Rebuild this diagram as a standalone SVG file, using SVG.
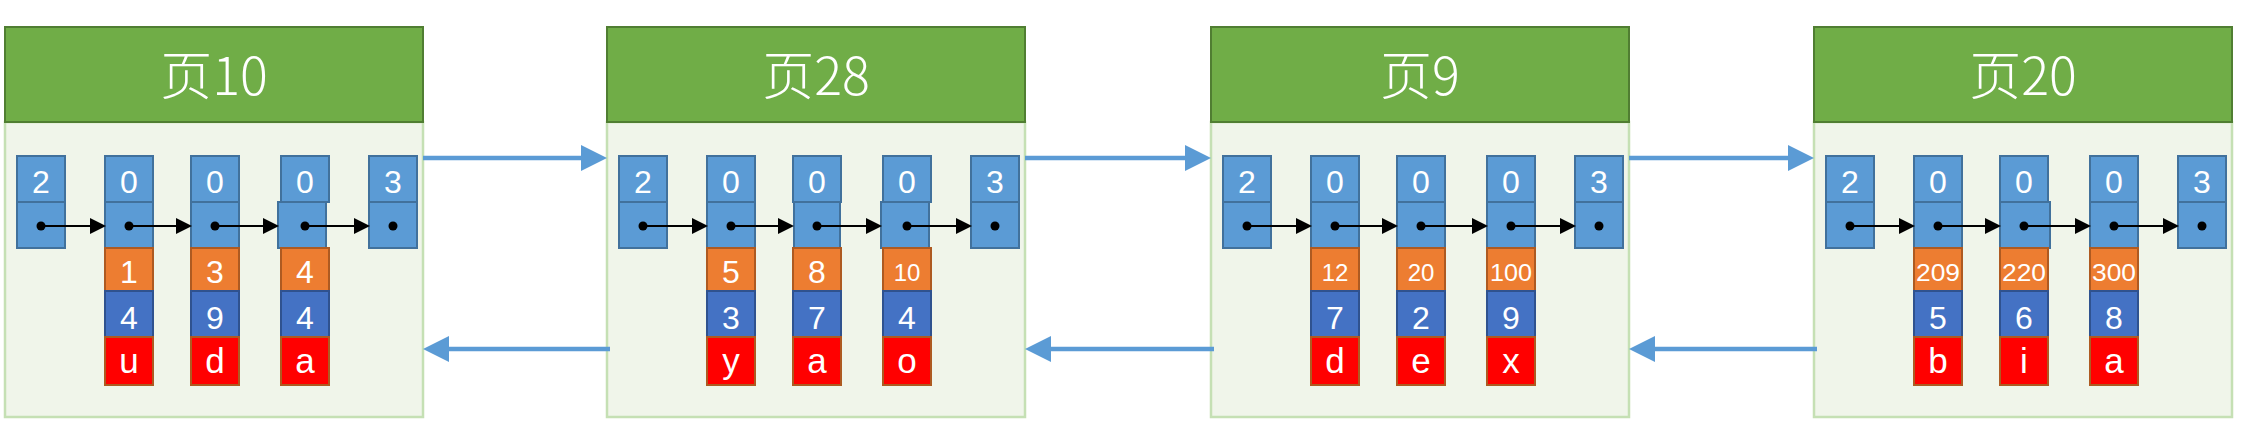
<svg xmlns="http://www.w3.org/2000/svg" width="2244" height="440" viewBox="0 0 2244 440">
<style>
.hd{fill:#70AD47;stroke:#507E32;stroke-width:2}
.bd{fill:#F0F5EA;stroke:#C5E0B4;stroke-width:2.5}
.ttl{font-family:"Noto Sans CJK SC","Noto Sans",sans-serif;font-size:52px;font-weight:300;fill:#fff;text-anchor:middle}
.b{fill:#5B9BD5;stroke:#41719C;stroke-width:2}
.o{fill:#ED7D31;stroke:#AE5A21;stroke-width:2}
.d{fill:#4472C4;stroke:#2F528F;stroke-width:2}
.r{fill:#FF0000;stroke:#AE5A21;stroke-width:2}
.t{font-family:"Liberation Sans",Arial,sans-serif;font-size:32px;fill:#fff;text-anchor:middle}
.s{font-size:24px}
.l{font-size:35px}
.dot{fill:#000}
.ptr{stroke:#000;stroke-width:2;fill:none}
.link{stroke:#5B9BD5;stroke-width:4.5;fill:none}
</style>
<defs>
<marker id="ah" markerUnits="userSpaceOnUse" markerWidth="16" markerHeight="16" refX="5" refY="8" orient="auto"><path d="M0,0 L16,8 L0,16 Z" fill="#000"/></marker>
<marker id="bh" markerUnits="userSpaceOnUse" markerWidth="26" markerHeight="26" refX="10" refY="13" orient="auto"><path d="M0,0 L26,13 L0,26 Z" fill="#5B9BD5"/></marker>
</defs>

<g id="page10" transform="translate(5,0)">
<rect class="bd" x="0" y="122" width="418" height="295"/>
<rect class="hd" x="0" y="27" width="418" height="95"/>
<text class="ttl" x="209" y="95">页10</text>
<g id="p10-inf"><rect class="b" x="12" y="156" width="48" height="46"/><rect class="b" x="12" y="202" width="48" height="46"/><text class="t" x="36" y="193">2</text><circle class="dot" cx="36" cy="226" r="4.5"/></g>
<g id="p10-r1"><rect class="b" x="100" y="156" width="48" height="46"/><rect class="b" x="100" y="202" width="48" height="46"/><rect class="o" x="100" y="248" width="48" height="43"/><rect class="d" x="100" y="291" width="48" height="46"/><rect class="r" x="100" y="337" width="48" height="48"/><text class="t" x="124" y="193">0</text><text class="t" x="124" y="283">1</text><text class="t" x="124" y="329">4</text><text class="t l" x="124" y="373">u</text><circle class="dot" cx="124" cy="226" r="4.5"/></g>
<g id="p10-r2"><rect class="b" x="186" y="156" width="48" height="46"/><rect class="b" x="186" y="202" width="48" height="46"/><rect class="o" x="186" y="248" width="48" height="43"/><rect class="d" x="186" y="291" width="48" height="46"/><rect class="r" x="186" y="337" width="48" height="48"/><text class="t" x="210" y="193">0</text><text class="t" x="210" y="283">3</text><text class="t" x="210" y="329">9</text><text class="t l" x="210" y="373">d</text><circle class="dot" cx="210" cy="226" r="4.5"/></g>
<g id="p10-r3"><rect class="b" x="276" y="156" width="48" height="46"/><rect class="b" x="273" y="202" width="48" height="46"/><rect class="o" x="276" y="248" width="48" height="43"/><rect class="d" x="276" y="291" width="48" height="46"/><rect class="r" x="276" y="337" width="48" height="48"/><text class="t" x="300" y="193">0</text><text class="t" x="300" y="283">4</text><text class="t" x="300" y="329">4</text><text class="t l" x="300" y="373">a</text><circle class="dot" cx="300" cy="226" r="4.5"/></g>
<g id="p10-sup"><rect class="b" x="364" y="156" width="48" height="46"/><rect class="b" x="364" y="202" width="48" height="46"/><text class="t" x="388" y="193">3</text><circle class="dot" cx="388" cy="226" r="4.5"/></g>
</g>

<g id="page28" transform="translate(607,0)">
<rect class="bd" x="0" y="122" width="418" height="295"/>
<rect class="hd" x="0" y="27" width="418" height="95"/>
<text class="ttl" x="209" y="95">页28</text>
<g id="p28-inf"><rect class="b" x="12" y="156" width="48" height="46"/><rect class="b" x="12" y="202" width="48" height="46"/><text class="t" x="36" y="193">2</text><circle class="dot" cx="36" cy="226" r="4.5"/></g>
<g id="p28-r1"><rect class="b" x="100" y="156" width="48" height="46"/><rect class="b" x="100" y="202" width="48" height="46"/><rect class="o" x="100" y="248" width="48" height="43"/><rect class="d" x="100" y="291" width="48" height="46"/><rect class="r" x="100" y="337" width="48" height="48"/><text class="t" x="124" y="193">0</text><text class="t" x="124" y="283">5</text><text class="t" x="124" y="329">3</text><text class="t l" x="124" y="373">y</text><circle class="dot" cx="124" cy="226" r="4.5"/></g>
<g id="p28-r2"><rect class="b" x="186" y="156" width="48" height="46"/><rect class="b" x="187" y="202" width="46" height="46"/><rect class="o" x="186" y="248" width="48" height="43"/><rect class="d" x="186" y="291" width="48" height="46"/><rect class="r" x="186" y="337" width="48" height="48"/><text class="t" x="210" y="193">0</text><text class="t" x="210" y="283">8</text><text class="t" x="210" y="329">7</text><text class="t l" x="210" y="373">a</text><circle class="dot" cx="210" cy="226" r="4.5"/></g>
<g id="p28-r3"><rect class="b" x="276" y="156" width="48" height="46"/><rect class="b" x="274" y="202" width="48" height="46"/><rect class="o" x="276" y="248" width="48" height="43"/><rect class="d" x="276" y="291" width="48" height="46"/><rect class="r" x="276" y="337" width="48" height="48"/><text class="t" x="300" y="193">0</text><text class="t s" x="300" y="281">10</text><text class="t" x="300" y="329">4</text><text class="t l" x="300" y="373">o</text><circle class="dot" cx="300" cy="226" r="4.5"/></g>
<g id="p28-sup"><rect class="b" x="364" y="156" width="48" height="46"/><rect class="b" x="364" y="202" width="48" height="46"/><text class="t" x="388" y="193">3</text><circle class="dot" cx="388" cy="226" r="4.5"/></g>
</g>

<g id="page9" transform="translate(1211,0)">
<rect class="bd" x="0" y="122" width="418" height="295"/>
<rect class="hd" x="0" y="27" width="418" height="95"/>
<text class="ttl" x="209" y="95">页9</text>
<g id="p9-inf"><rect class="b" x="12" y="156" width="48" height="46"/><rect class="b" x="12" y="202" width="48" height="46"/><text class="t" x="36" y="193">2</text><circle class="dot" cx="36" cy="226" r="4.5"/></g>
<g id="p9-r1"><rect class="b" x="100" y="156" width="48" height="46"/><rect class="b" x="100" y="202" width="48" height="46"/><rect class="o" x="100" y="248" width="48" height="43"/><rect class="d" x="100" y="291" width="48" height="46"/><rect class="r" x="100" y="337" width="48" height="48"/><text class="t" x="124" y="193">0</text><text class="t s" x="124" y="281">12</text><text class="t" x="124" y="329">7</text><text class="t l" x="124" y="373">d</text><circle class="dot" cx="124" cy="226" r="4.5"/></g>
<g id="p9-r2"><rect class="b" x="186" y="156" width="48" height="46"/><rect class="b" x="186" y="202" width="48" height="46"/><rect class="o" x="186" y="248" width="48" height="43"/><rect class="d" x="186" y="291" width="48" height="46"/><rect class="r" x="186" y="337" width="48" height="48"/><text class="t" x="210" y="193">0</text><text class="t s" x="210" y="281">20</text><text class="t" x="210" y="329">2</text><text class="t l" x="210" y="373">e</text><circle class="dot" cx="210" cy="226" r="4.5"/></g>
<g id="p9-r3"><rect class="b" x="276" y="156" width="48" height="46"/><rect class="b" x="276" y="202" width="48" height="46"/><rect class="o" x="276" y="248" width="48" height="43"/><rect class="d" x="276" y="291" width="48" height="46"/><rect class="r" x="276" y="337" width="48" height="48"/><text class="t" x="300" y="193">0</text><text class="t s" x="300" y="281" textLength="42" lengthAdjust="spacingAndGlyphs">100</text><text class="t" x="300" y="329">9</text><text class="t l" x="300" y="373">x</text><circle class="dot" cx="300" cy="226" r="4.5"/></g>
<g id="p9-sup"><rect class="b" x="364" y="156" width="48" height="46"/><rect class="b" x="364" y="202" width="48" height="46"/><text class="t" x="388" y="193">3</text><circle class="dot" cx="388" cy="226" r="4.5"/></g>
</g>

<g id="page20" transform="translate(1814,0)">
<rect class="bd" x="0" y="122" width="418" height="295"/>
<rect class="hd" x="0" y="27" width="418" height="95"/>
<text class="ttl" x="209" y="95">页20</text>
<g id="p20-inf"><rect class="b" x="12" y="156" width="48" height="46"/><rect class="b" x="12" y="202" width="48" height="46"/><text class="t" x="36" y="193">2</text><circle class="dot" cx="36" cy="226" r="4.5"/></g>
<g id="p20-r1"><rect class="b" x="100" y="156" width="48" height="46"/><rect class="b" x="100" y="202" width="48" height="46"/><rect class="o" x="100" y="248" width="48" height="43"/><rect class="d" x="100" y="291" width="48" height="46"/><rect class="r" x="100" y="337" width="48" height="48"/><text class="t" x="124" y="193">0</text><text class="t s" x="124" y="281" textLength="44" lengthAdjust="spacingAndGlyphs">209</text><text class="t" x="124" y="329">5</text><text class="t l" x="124" y="373">b</text><circle class="dot" cx="124" cy="226" r="4.5"/></g>
<g id="p20-r2"><rect class="b" x="186" y="156" width="48" height="46"/><rect class="b" x="186" y="202" width="50" height="46"/><rect class="o" x="186" y="248" width="48" height="43"/><rect class="d" x="186" y="291" width="48" height="46"/><rect class="r" x="186" y="337" width="48" height="48"/><text class="t" x="210" y="193">0</text><text class="t s" x="210" y="281" textLength="44" lengthAdjust="spacingAndGlyphs">220</text><text class="t" x="210" y="329">6</text><text class="t l" x="210" y="373">i</text><circle class="dot" cx="210" cy="226" r="4.5"/></g>
<g id="p20-r3"><rect class="b" x="276" y="156" width="48" height="46"/><rect class="b" x="276" y="202" width="48" height="46"/><rect class="o" x="276" y="248" width="48" height="43"/><rect class="d" x="276" y="291" width="48" height="46"/><rect class="r" x="276" y="337" width="48" height="48"/><text class="t" x="300" y="193">0</text><text class="t s" x="300" y="281" textLength="44" lengthAdjust="spacingAndGlyphs">300</text><text class="t" x="300" y="329">8</text><text class="t l" x="300" y="373">a</text><circle class="dot" cx="300" cy="226" r="4.5"/></g>
<g id="p20-sup"><rect class="b" x="364" y="156" width="48" height="46"/><rect class="b" x="364" y="202" width="48" height="46"/><text class="t" x="388" y="193">3</text><circle class="dot" cx="388" cy="226" r="4.5"/></g>
</g>

<g id="connectors">
<line class="ptr" x1="41" y1="226" x2="95" y2="226" marker-end="url(#ah)"/>
<line class="ptr" x1="129" y1="226" x2="181" y2="226" marker-end="url(#ah)"/>
<line class="ptr" x1="215" y1="226" x2="268" y2="226" marker-end="url(#ah)"/>
<line class="ptr" x1="305" y1="226" x2="359" y2="226" marker-end="url(#ah)"/>
<line class="ptr" x1="643" y1="226" x2="697" y2="226" marker-end="url(#ah)"/>
<line class="ptr" x1="731" y1="226" x2="783" y2="226" marker-end="url(#ah)"/>
<line class="ptr" x1="817" y1="226" x2="871" y2="226" marker-end="url(#ah)"/>
<line class="ptr" x1="907" y1="226" x2="961" y2="226" marker-end="url(#ah)"/>
<line class="ptr" x1="1247" y1="226" x2="1301" y2="226" marker-end="url(#ah)"/>
<line class="ptr" x1="1335" y1="226" x2="1387" y2="226" marker-end="url(#ah)"/>
<line class="ptr" x1="1421" y1="226" x2="1477" y2="226" marker-end="url(#ah)"/>
<line class="ptr" x1="1511" y1="226" x2="1565" y2="226" marker-end="url(#ah)"/>
<line class="ptr" x1="1850" y1="226" x2="1904" y2="226" marker-end="url(#ah)"/>
<line class="ptr" x1="1938" y1="226" x2="1990" y2="226" marker-end="url(#ah)"/>
<line class="ptr" x1="2024" y1="226" x2="2080" y2="226" marker-end="url(#ah)"/>
<line class="ptr" x1="2114" y1="226" x2="2168" y2="226" marker-end="url(#ah)"/>
<line class="link" x1="423" y1="158" x2="591" y2="158" marker-end="url(#bh)"/>
<line class="link" x1="1025" y1="158" x2="1195" y2="158" marker-end="url(#bh)"/>
<line class="link" x1="1629" y1="158" x2="1798" y2="158" marker-end="url(#bh)"/>
<line class="link" x1="610" y1="349" x2="439" y2="349" marker-end="url(#bh)"/>
<line class="link" x1="1214" y1="349" x2="1041" y2="349" marker-end="url(#bh)"/>
<line class="link" x1="1817" y1="349" x2="1645" y2="349" marker-end="url(#bh)"/>
</g>
</svg>
